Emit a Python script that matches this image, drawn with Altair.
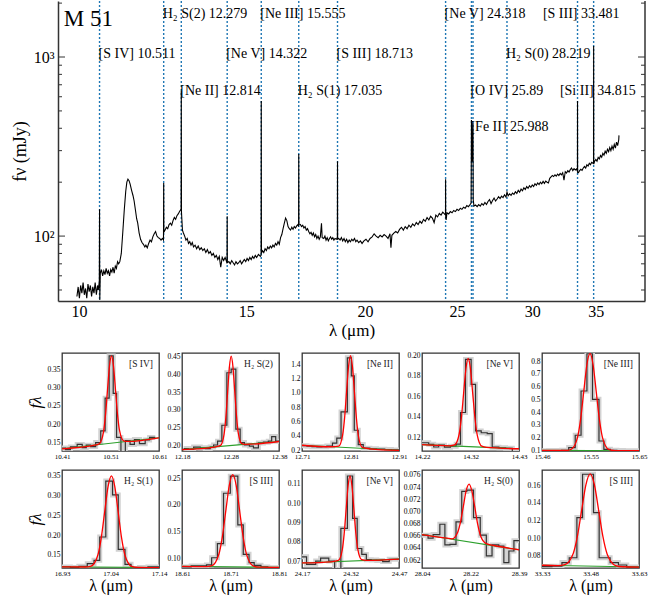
import altair as alt
import pandas as pd

FONT = "Liberation Serif"

# ---------------- top spectrum (wavelength um, flux mJy) ----------------
spectrum = [
    (9.95, 46), (9.98, 52), (10.01, 45), (10.04, 53), (10.07, 48), (10.10, 55), (10.13, 47), (10.16, 51),
    (10.19, 45), (10.22, 54), (10.25, 49), (10.28, 53), (10.31, 46), (10.34, 52), (10.37, 48), (10.40, 55),
    (10.43, 47), (10.46, 53), (10.48, 50), (10.505, 56), (10.511, 141), (10.517, 44), (10.53, 62), (10.56, 65),
    (10.59, 60), (10.62, 64), (10.65, 61), (10.68, 66), (10.71, 62), (10.74, 64), (10.77, 60), (10.80, 65),
    (10.83, 63), (10.86, 67), (10.89, 62), (10.92, 68), (10.95, 66), (10.98, 72), (11.01, 70), (11.04, 72),
    (11.08, 80), (11.12, 105), (11.16, 140), (11.20, 178), (11.23, 200), (11.26, 208), (11.29, 204), (11.32, 195),
    (11.36, 180), (11.40, 168), (11.43, 157), (11.47, 138), (11.50, 125), (11.53, 118), (11.57, 104), (11.61, 96),
    (11.65, 92), (11.69, 90), (11.73, 87), (11.76, 89), (11.80, 86), (11.84, 91), (11.88, 95), (11.92, 93),
    (11.96, 99), (12.00, 103), (12.04, 106), (12.08, 100), (12.12, 98), (12.16, 97), (12.20, 95), (12.24, 97),
    (12.273, 95), (12.279, 198), (12.285, 105), (12.32, 108), (12.36, 112), (12.40, 110), (12.44, 116), (12.48, 118),
    (12.52, 115), (12.56, 122), (12.60, 127), (12.64, 124), (12.68, 130), (12.72, 133), (12.76, 137), (12.79, 140),
    (12.808, 142), (12.814, 647), (12.82, 136), (12.85, 108), (12.88, 104), (12.92, 100), (12.96, 95), (13.00, 97),
    (13.04, 91), (13.08, 93), (13.12, 89), (13.16, 92), (13.20, 87), (13.25, 89), (13.30, 85), (13.35, 88),
    (13.40, 84), (13.45, 86), (13.50, 83), (13.55, 85), (13.60, 81), (13.65, 84), (13.70, 80), (13.75, 82),
    (13.80, 78), (13.85, 80), (13.90, 76), (13.95, 78), (14.00, 74), (14.05, 77), (14.10, 67), (14.15, 76),
    (14.20, 73), (14.25, 76), (14.30, 72), (14.316, 74), (14.322, 129), (14.328, 71), (14.38, 72), (14.43, 70),
    (14.48, 73), (14.53, 71), (14.58, 69), (14.63, 72), (14.68, 70), (14.73, 71), (14.78, 73), (14.83, 70),
    (14.88, 72), (14.93, 74), (14.98, 72), (15.03, 75), (15.08, 73), (15.13, 76), (15.18, 74), (15.23, 77),
    (15.28, 75), (15.33, 78), (15.38, 76), (15.45, 79), (15.52, 77), (15.548, 78), (15.555, 568), (15.562, 80),
    (15.60, 83), (15.65, 81), (15.70, 85), (15.75, 83), (15.80, 87), (15.85, 85), (15.90, 88), (15.95, 86),
    (16.00, 89), (16.05, 87), (16.10, 91), (16.15, 89), (16.20, 93), (16.25, 90), (16.30, 98), (16.35, 102),
    (16.40, 110), (16.45, 118), (16.50, 126), (16.55, 122), (16.60, 113), (16.65, 110), (16.70, 108), (16.75, 112),
    (16.80, 109), (16.85, 113), (16.90, 111), (16.95, 114), (17.00, 116), (17.028, 113), (17.035, 287), (17.042, 117),
    (17.10, 116), (17.15, 113), (17.20, 115), (17.25, 111), (17.30, 113), (17.35, 108), (17.40, 110), (17.45, 106),
    (17.50, 103), (17.55, 105), (17.60, 101), (17.65, 104), (17.70, 99), (17.75, 102), (17.80, 97), (17.85, 100),
    (17.90, 96), (17.95, 99), (18.00, 118), (18.03, 98), (18.10, 97), (18.15, 100), (18.20, 95), (18.25, 98),
    (18.30, 94), (18.35, 97), (18.40, 99), (18.45, 96), (18.50, 98), (18.55, 95), (18.60, 97), (18.66, 96),
    (18.706, 98), (18.713, 262), (18.72, 96), (18.77, 97), (18.83, 95), (18.89, 98), (18.95, 94), (19.01, 97),
    (19.07, 93), (19.13, 96), (19.19, 92), (19.25, 95), (19.31, 93), (19.37, 96), (19.43, 94), (19.50, 97),
    (19.56, 93), (19.62, 95), (19.70, 92), (19.78, 94), (19.86, 91), (19.95, 94), (20.05, 96), (20.15, 93),
    (20.25, 97), (20.35, 99), (20.45, 103), (20.55, 100), (20.65, 98), (20.75, 101), (20.85, 99), (20.95, 102),
    (21.05, 100), (21.15, 97), (21.25, 103), (21.30, 86), (21.35, 101), (21.45, 104), (21.55, 106), (21.65, 104),
    (21.75, 109), (21.85, 112), (21.95, 108), (22.05, 113), (22.15, 110), (22.25, 115), (22.35, 112), (22.45, 117),
    (22.55, 114), (22.65, 119), (22.75, 116), (22.85, 121), (22.95, 118), (23.05, 124), (23.15, 121), (23.25, 127),
    (23.35, 123), (23.45, 129), (23.55, 126), (23.65, 119), (23.75, 131), (23.85, 128), (23.95, 134), (24.05, 131),
    (24.15, 136), (24.25, 133), (24.312, 131), (24.318, 208), (24.325, 127), (24.35, 123), (24.40, 135), (24.50, 133),
    (24.60, 137), (24.70, 135), (24.80, 139), (24.90, 137), (25.00, 141), (25.10, 139), (25.20, 143), (25.30, 141),
    (25.40, 145), (25.50, 143), (25.60, 148), (25.70, 146), (25.80, 150), (25.87, 153), (25.89, 445), (25.94, 260),
    (25.988, 430), (26.00, 160), (26.05, 147), (26.15, 149), (26.25, 146), (26.35, 150), (26.45, 147), (26.55, 152),
    (26.65, 149), (26.75, 154), (26.85, 150), (26.95, 156), (27.05, 160), (27.15, 152), (27.25, 158), (27.35, 163),
    (27.45, 157), (27.55, 161), (27.65, 166), (27.75, 162), (27.85, 167), (27.95, 164), (28.05, 170), (28.15, 165),
    (28.22, 176), (28.30, 168), (28.40, 172), (28.50, 169), (28.60, 174), (28.70, 171), (28.80, 177), (28.90, 173),
    (29.00, 180), (29.10, 176), (29.20, 183), (29.30, 179), (29.40, 186), (29.50, 182), (29.60, 189), (29.70, 185),
    (29.80, 191), (29.90, 187), (30.00, 193), (30.10, 189), (30.20, 196), (30.30, 192), (30.40, 198), (30.50, 194),
    (30.60, 200), (30.70, 196), (30.80, 202), (30.90, 197), (31.00, 203), (31.10, 200), (31.20, 198), (31.30, 210),
    (31.40, 214), (31.50, 218), (31.60, 215), (31.70, 220), (31.80, 216), (31.90, 222), (32.00, 218), (32.10, 224),
    (32.20, 220), (32.30, 226), (32.40, 205), (32.50, 229), (32.60, 225), (32.70, 232), (32.80, 228), (32.90, 235),
    (33.00, 240), (33.10, 232), (33.20, 238), (33.30, 234), (33.40, 237), (33.474, 230), (33.481, 568), (33.49, 226),
    (33.55, 226), (33.65, 232), (33.75, 236), (33.85, 233), (33.95, 240), (34.05, 245), (34.15, 240), (34.25, 250),
    (34.35, 246), (34.45, 255), (34.55, 250), (34.65, 258), (34.75, 255), (34.805, 258), (34.815, 1151), (34.825, 252),
    (34.90, 262), (35.00, 268), (35.10, 262), (35.20, 275), (35.30, 270), (35.40, 282), (35.50, 276), (35.60, 290),
    (35.70, 283), (35.80, 298), (35.90, 290), (36.00, 305), (36.10, 296), (36.20, 312), (36.30, 300), (36.40, 318),
    (36.50, 305), (36.60, 325), (36.70, 310), (36.80, 335), (36.90, 320), (37.00, 345), (37.02, 365),
]

line_waves = [10.511, 12.279, 12.814, 14.322, 15.555, 17.035, 18.713, 24.318, 25.89, 25.988, 28.219, 33.481, 34.815]
label_text = ["[S IV] 10.511", "H\u2082 S(2) 12.279", "[Ne II] 12.814", "[Ne V] 14.322", "[Ne III] 15.555",
              "H\u2082 S(1) 17.035", "[S III] 18.713", "[Ne V] 24.318", "[O IV] 25.89", "[Fe II] 25.988",
              "H\u2082 S(0) 28.219", "[S III] 33.481", "[Si II] 34.815"]
label_lam = [10.511, 12.279, 12.814, 14.322, 15.555, 17.035, 18.713, 24.318, 25.89, 25.89, 28.219, 30.86, 32.16]
label_flux = [1040, 1738, 646, 1040, 1738, 646, 1040, 1738, 646, 406, 1040, 1738, 646]

y_major = [100, 1000]
y_minor = [50, 60, 70, 80, 90, 200, 300, 400, 500, 600, 700, 800, 900, 2000]
x_ticks = [10, 15, 20, 25, 30, 35]

# ---------------- zoom panels ----------------
panels = [
    dict(name="[S IV]", xlo=10.41, xhi=10.61, xlab=["10.41", "10.51", "10.61"], ylo=0.127, yhi=0.394,
         yticks=[0.15, 0.20, 0.25, 0.30, 0.35], yfmt=".2f",
         edges=[10.41, 10.417, 10.4274, 10.4413, 10.4517, 10.46, 10.469, 10.4794, 10.4899, 10.4989, 10.5072,
                10.5156, 10.5225, 10.5315, 10.5406, 10.5503, 10.5593, 10.5697, 10.5815, 10.5906, 10.6024],
         vals=[0.135, 0.131, 0.138, 0.145, 0.136, 0.143, 0.139, 0.150, 0.182, 0.271, 0.386, 0.284, 0.164, 0.125,
               0.155, 0.145, 0.158, 0.147, 0.157, 0.164],
         fit=[(10.41, 0.133), (10.48, 0.1435), (10.487, 0.147), (10.4954, 0.178), (10.4996, 0.224), (10.5037, 0.291),
              (10.5079, 0.358), (10.512, 0.386), (10.5161, 0.359), (10.5203, 0.294), (10.5244, 0.2275),
              (10.5286, 0.183), (10.537, 0.1546), (10.545, 0.153), (10.61, 0.163)],
         cont=[(10.41, 0.133), (10.61, 0.163)]),
    dict(name="H\u2082 S(2)", xlo=12.18, xhi=12.38, xlab=["12.18", "12.28", "12.38"], ylo=0.183, yhi=0.461,
         yticks=[0.20, 0.25, 0.30, 0.35, 0.40, 0.45], yfmt=".2f",
         edges=[12.1834, 12.1937, 12.204, 12.2177, 12.228, 12.2382, 12.2451, 12.2533, 12.2622, 12.2725, 12.2814,
                12.291, 12.2999, 12.3088, 12.319, 12.3273, 12.3375, 12.3478, 12.358, 12.3649, 12.3732, 12.38],
         vals=[0.19, 0.188, 0.194, 0.192, 0.19, 0.194, 0.2, 0.211, 0.256, 0.405, 0.415, 0.245, 0.207, 0.2, 0.197,
               0.192, 0.206, 0.208, 0.211, 0.224, 0.211],
         fit=[(12.18, 0.187), (12.25, 0.195), (12.2595, 0.199), (12.2668, 0.231), (12.2705, 0.2795), (12.2741, 0.351),
              (12.2778, 0.422), (12.2814, 0.452), (12.285, 0.4226), (12.2887, 0.353), (12.2924, 0.282),
              (12.296, 0.2344), (12.3033, 0.2038), (12.31, 0.2017), (12.38, 0.21)],
         cont=[(12.18, 0.187), (12.38, 0.21)]),
    dict(name="[Ne II]", xlo=12.71, xhi=12.91, xlab=["12.71", "12.81", "12.91"], ylo=0.19, yhi=1.558,
         yticks=[0.2, 0.4, 0.6, 0.8, 1.0, 1.2, 1.4], yfmt=".1f",
         edges=[12.71, 12.7202, 12.7305, 12.7407, 12.751, 12.7612, 12.7728, 12.7817, 12.7905, 12.8035, 12.8117,
                12.8178, 12.826, 12.8363, 12.8499, 12.8636, 12.8807, 12.8943, 12.91],
         vals=[0.265, 0.258, 0.25, 0.248, 0.25, 0.26, 0.30, 0.37, 0.735, 1.49, 1.24, 0.48, 0.28, 0.23, 0.22, 0.215,
               0.21, 0.205],
         fit=[(12.71, 0.27), (12.77, 0.249), (12.7857, 0.258), (12.7938, 0.415), (12.7979, 0.656), (12.8019, 1.017),
              (12.806, 1.370), (12.81, 1.52), (12.814, 1.368), (12.8181, 1.012), (12.8222, 0.648), (12.8262, 0.403),
              (12.8343, 0.241), (12.85, 0.221), (12.91, 0.20)],
         cont=[(12.71, 0.27), (12.91, 0.20)]),
    dict(name="[Ne V]", xlo=14.22, xhi=14.43, xlab=["14.22", "14.32", "14.43"], ylo=0.1063, yhi=0.2023,
         yticks=[0.12, 0.14, 0.16, 0.18, 0.20], yfmt=".2f",
         edges=[14.22, 14.2345, 14.2453, 14.2562, 14.2685, 14.2816, 14.2939, 14.3033, 14.3142, 14.3264, 14.3359,
                14.3482, 14.3612, 14.372, 14.3865, 14.401, 14.4155, 14.43],
         vals=[0.1144, 0.1128, 0.1102, 0.112, 0.110, 0.111, 0.113, 0.144, 0.196, 0.1716, 0.126, 0.1242, 0.1233,
               0.110, 0.1095, 0.109, 0.1056],
         fit=[(14.22, 0.1125), (14.28, 0.1114), (14.2906, 0.1122), (14.3004, 0.1227), (14.3053, 0.139),
              (14.3102, 0.1632), (14.3151, 0.1869), (14.32, 0.197), (14.3249, 0.1867), (14.3298, 0.1628),
              (14.3347, 0.1384), (14.3396, 0.1219), (14.3494, 0.111), (14.36, 0.1098), (14.43, 0.1085)],
         cont=[(14.22, 0.1125), (14.43, 0.1085)]),
    dict(name="[Ne III]", xlo=15.46, xhi=15.65, xlab=["15.46", "15.55", "15.65"], ylo=0.0945, yhi=0.863,
         yticks=[0.1, 0.2, 0.3, 0.4, 0.5, 0.6, 0.7, 0.8], yfmt=".1f",
         edges=[15.46, 15.4728, 15.4855, 15.4983, 15.5123, 15.5251, 15.5365, 15.548, 15.5589, 15.5716, 15.5812,
                15.594, 15.6067, 15.6195, 15.6323, 15.65],
         vals=[0.097, 0.098, 0.098, 0.100, 0.121, 0.218, 0.565, 0.857, 0.50, 0.173, 0.108, 0.100, 0.098, 0.097,
               0.097],
         fit=[(15.46, 0.1), (15.51, 0.0995), (15.5174, 0.108), (15.5296, 0.202), (15.5357, 0.346), (15.5418, 0.561),
              (15.5479, 0.771), (15.554, 0.86), (15.5601, 0.7705), (15.5662, 0.5604), (15.5723, 0.3458),
              (15.5784, 0.2016), (15.5906, 0.1068), (15.60, 0.0983), (15.65, 0.097)],
         cont=[(15.46, 0.1), (15.65, 0.097)]),
    dict(name="H\u2082 S(1)", xlo=16.93, xhi=17.14, xlab=["16.93", "17.04", "17.14"], ylo=0.117, yhi=0.365,
         yticks=[0.15, 0.20, 0.25, 0.30, 0.35], yfmt=".2f",
         edges=[16.93, 16.9482, 16.9665, 16.9847, 16.9993, 17.0117, 17.0248, 17.0394, 17.0518, 17.0664, 17.0795,
                17.0977, 17.116, 17.14],
         vals=[0.1196, 0.118, 0.1213, 0.128, 0.1363, 0.1954, 0.337, 0.302, 0.1643, 0.1262, 0.116, 0.118, 0.1196],
         fit=[(16.93, 0.12), (16.98, 0.1195), (16.9932, 0.1219), (17.0078, 0.1505), (17.0151, 0.1941),
              (17.0224, 0.2591), (17.0297, 0.3229), (17.037, 0.35), (17.0443, 0.3228), (17.0516, 0.2589),
              (17.0589, 0.1938), (17.0662, 0.15), (17.0808, 0.1211), (17.095, 0.1184), (17.14, 0.118)],
         cont=[(16.93, 0.12), (17.14, 0.118)]),
    dict(name="[S III]", xlo=18.61, xhi=18.81, xlab=["18.61", "18.71", "18.81"], ylo=0.0818, yhi=0.2656,
         yticks=[0.10, 0.15, 0.20, 0.25], yfmt=".2f",
         edges=[18.61, 18.6289, 18.6465, 18.6605, 18.6711, 18.683, 18.6956, 18.7096, 18.7251, 18.7363, 18.7482,
                18.7588, 18.7728, 18.7868, 18.81],
         vals=[0.0838, 0.0856, 0.0856, 0.0875, 0.101, 0.1275, 0.222, 0.254, 0.1625, 0.1075, 0.0919, 0.0869, 0.0838,
               0.0825],
         fit=[(18.61, 0.085), (18.66, 0.0845), (18.6717, 0.0862), (18.686, 0.1076), (18.6932, 0.1403),
              (18.7003, 0.1889), (18.7075, 0.2367), (18.7146, 0.2569), (18.7218, 0.2365), (18.7289, 0.1887),
              (18.7361, 0.1399), (18.7432, 0.107), (18.7575, 0.0854), (18.77, 0.0834), (18.81, 0.083)],
         cont=[(18.61, 0.085), (18.81, 0.083)]),
    dict(name="[Ne V]", xlo=24.17, xhi=24.47, xlab=["24.17", "24.32", "24.47"], ylo=0.0664, yhi=0.1171,
         yticks=[0.07, 0.08, 0.09, 0.10, 0.11], yfmt=".2f",
         edges=[24.17, 24.1841, 24.2124, 24.2276, 24.2528, 24.271, 24.2902, 24.3104, 24.3266, 24.3407, 24.3549,
                24.369, 24.3841, 24.4013, 24.4195, 24.4397, 24.47],
         vals=[0.0722, 0.0683, 0.070, 0.0715, 0.070, 0.0655, 0.0869, 0.114, 0.0921, 0.0765, 0.0734, 0.0707, 0.0705,
               0.0703, 0.0697, 0.0709],
         fit=[(24.17, 0.069), (24.26, 0.0696), (24.2825, 0.0703), (24.2945, 0.0758), (24.3005, 0.0842),
              (24.3065, 0.0966), (24.3125, 0.1088), (24.3185, 0.114), (24.3245, 0.1088), (24.3305, 0.0968),
              (24.3365, 0.0844), (24.3425, 0.0762), (24.3545, 0.0707), (24.37, 0.0703), (24.47, 0.071)],
         cont=[(24.17, 0.069), (24.47, 0.071)]),
    dict(name="H\u2082 S(0)", xlo=28.04, xhi=28.39, xlab=["28.04", "28.22", "28.39"], ylo=0.0607, yhi=0.07682,
         yticks=[0.062, 0.064, 0.066, 0.068, 0.070, 0.072, 0.074, 0.076], yfmt=".3f",
         edges=[28.04, 28.0619, 28.0801, 28.1044, 28.1226, 28.1409, 28.1627, 28.1834, 28.2016, 28.2259, 28.2502,
                28.2721, 28.2927, 28.317, 28.3353, 28.3535, 28.3717, 28.39],
         vals=[0.0661, 0.0656, 0.0662, 0.0679, 0.0645, 0.0646, 0.0683, 0.0733, 0.0735, 0.069, 0.0661, 0.0627,
               0.0645, 0.0643, 0.0616, 0.0635, 0.0652],
         fit=[(28.04, 0.0662), (28.13, 0.0656), (28.1482, 0.0655), (28.1688, 0.0666), (28.1791, 0.0683),
              (28.1894, 0.0709), (28.1997, 0.0735), (28.21, 0.0745), (28.2203, 0.0733), (28.2306, 0.0707),
              (28.2409, 0.0679), (28.2512, 0.066), (28.2718, 0.0647), (28.30, 0.0644), (28.39, 0.0637)],
         cont=[(28.04, 0.0662), (28.39, 0.0637)]),
    dict(name="[S III]", xlo=33.33, xhi=33.63, xlab=["33.33", "33.48", "33.63"], ylo=0.0664, yhi=0.1773,
         yticks=[0.08, 0.10, 0.12, 0.14, 0.16], yfmt=".2f",
         edges=[33.33, 33.3608, 33.3917, 33.4143, 33.4379, 33.4554, 33.4718, 33.4893, 33.5068, 33.5407, 33.5664,
                33.5921, 33.63],
         vals=[0.068, 0.0685, 0.0725, 0.078, 0.1235, 0.1725, 0.1725, 0.129, 0.078, 0.0725, 0.0698, 0.0675],
         fit=[(33.33, 0.0695), (33.38, 0.0692), (33.4004, 0.0702), (33.4266, 0.0829), (33.4397, 0.1027),
              (33.4528, 0.1321), (33.4659, 0.1608), (33.479, 0.173), (33.4921, 0.1606), (33.5052, 0.1317),
              (33.5183, 0.1021), (33.5314, 0.0823), (33.5576, 0.0692), (33.58, 0.0678), (33.63, 0.0675)],
         cont=[(33.33, 0.0695), (33.63, 0.0675)]),
]

# ================= top chart =================
TW, TH = 587, 300
FRAME = "#333333"
xs_top = alt.Scale(type="log", domain=[9.504, 39.43], nice=False)
ys_top = alt.Scale(type="log", domain=[43.4, 2055], nice=False)
xax_top = alt.Axis(values=x_ticks, format="d", ticks=False, grid=False, domainColor=FRAME, domainWidth=1.5,
                   labelFont=FONT, labelFontSize=16, labelPadding=2, labelColor="black",
                   title="\u03bb (\u03bcm)", titleFont=FONT, titleFontSize=17, titleFontWeight="normal",
                   titlePadding=3, titleColor="black")
yax_top = alt.Axis(values=y_major, labelExpr="datum.value == 100 ? '10\u00b2' : '10\u00b3'", ticks=False,
                   grid=False, domainColor=FRAME, domainWidth=1.5, labelFont=FONT, labelFontSize=16,
                   labelPadding=4, labelColor="black", title="f\u03bd (mJy)", titleFont=FONT, titleFontSize=18,
                   titleFontWeight="normal", titlePadding=4, titleColor="black")

spec_df = pd.DataFrame(spectrum, columns=["lam", "f"])
lines_df = pd.DataFrame({"lam": line_waves})
labels_df = pd.DataFrame({"lam": label_lam, "f": label_flux, "txt": label_text})
name_df = pd.DataFrame({"lam": [9.64], "f": [1630], "txt": ["M 51"]})
major_df = pd.DataFrame({"f": y_major})
minor_df = pd.DataFrame({"f": y_minor})
one_df = pd.DataFrame({"a": [0]})

X = alt.X("lam:Q", scale=xs_top, axis=xax_top)
Y = alt.Y("f:Q", scale=ys_top, axis=yax_top)

vlines = alt.Chart(lines_df).mark_rule(color="#1f77b4", strokeDash=[2, 2], strokeWidth=1.4).encode(x=X)
spec_line = alt.Chart(spec_df).mark_line(color="black", strokeWidth=1.1, clip=True).encode(
    x=X, y=Y, order="lam:Q")
labels = alt.Chart(labels_df).mark_text(align="left", baseline="middle", font=FONT, fontSize=14,
                                        color="black", dx=-1).encode(x=X, y=Y, text="txt:N")
m51 = alt.Chart(name_df).mark_text(align="left", baseline="middle", font=FONT, fontSize=23,
                                   color="black").encode(x=X, y=Y, text="txt:N")
tick_l_major = alt.Chart(major_df).mark_rule(color=FRAME, strokeWidth=1).encode(
    y=Y, x=alt.value(0), x2=alt.value(7))
tick_l_minor = alt.Chart(minor_df).mark_rule(color=FRAME, strokeWidth=1, clip=True).encode(
    y=Y, x=alt.value(0), x2=alt.value(4))
tick_r_major = alt.Chart(major_df).mark_rule(color=FRAME, strokeWidth=1).encode(
    y=Y, x=alt.value(TW - 7), x2=alt.value(TW))
tick_r_minor = alt.Chart(minor_df).mark_rule(color=FRAME, strokeWidth=1, clip=True).encode(
    y=Y, x=alt.value(TW - 4), x2=alt.value(TW))
right_border = alt.Chart(one_df).mark_rule(color=FRAME, strokeWidth=1.5).encode(
    x=alt.value(TW), y=alt.value(0), y2=alt.value(TH))

top = alt.layer(vlines, spec_line, labels, m51, tick_l_major, tick_l_minor, tick_r_major, tick_r_minor,
                right_border).properties(width=TW, height=TH)


# ================= small panels =================
PW, PH = 97, 98


def make_panel(p, bottom_row, first_col):
    lo, hi = p["xlo"], p["xhi"]
    mid = (lo + hi) / 2
    t1 = lo + 0.25 * (hi - lo)
    t2 = lo + 0.75 * (hi - lo)
    labs = p["xlab"]
    lexpr = f"datum.value < {t1} ? '{labs[0]}' : (datum.value < {t2} ? '{labs[1]}' : '{labs[2]}')"
    xs = alt.Scale(domain=[lo, hi], nice=False, zero=False)
    ys = alt.Scale(domain=[p["ylo"], p["yhi"]], nice=False, zero=False)
    xax = alt.Axis(values=[lo, mid, hi], labelExpr=lexpr, labelFlush=False, labelOverlap=False, ticks=False,
                   domain=False, grid=False, labelFont=FONT, labelFontSize=7, labelPadding=1,
                   labelColor="black",
                   title=("\u03bb (\u03bcm)" if bottom_row else None), titleFont=FONT, titleFontSize=16,
                   titleFontWeight="normal", titlePadding=1, titleColor="black")
    yax = alt.Axis(values=p["yticks"], format=p["yfmt"], labelOverlap=False, ticks=False, domain=False,
                   grid=False, labelFont=FONT, labelFontSize=7.5, labelPadding=2, labelColor="black",
                   title=("f\u03bb" if first_col else None), titleFont=FONT, titleFontSize=17,
                   titleFontWeight="normal", titleFontStyle="italic", titlePadding=2, titleColor="black")
    PX = alt.X("lam:Q", scale=xs, axis=xax)
    PY = alt.Y("f:Q", scale=ys, axis=yax)

    step_df = pd.DataFrame({"lam": p["edges"], "f": p["vals"] + [p["vals"][-1]]})
    fit_df = pd.DataFrame(p["fit"], columns=["lam", "f"])
    cont_df = pd.DataFrame(p["cont"], columns=["lam", "f"])
    name_df = pd.DataFrame({"name": [p["name"]]})

    band = alt.Chart(step_df).mark_line(interpolate="step-after", color="#d2d2d2", strokeWidth=5,
                                        clip=True).encode(x=PX, y=PY)
    step = alt.Chart(step_df).mark_line(interpolate="step-after", color="#333333", strokeWidth=1.2,
                                        clip=True).encode(x=PX, y=PY)
    cont = alt.Chart(cont_df).mark_line(color="#2ca02c", strokeWidth=1.1, clip=True).encode(x=PX, y=PY)
    fit = alt.Chart(fit_df).mark_line(interpolate="monotone", color="red", strokeWidth=1.3,
                                      clip=True).encode(x=PX, y=PY)
    txt = alt.Chart(name_df).mark_text(align="right", baseline="middle", font=FONT, fontSize=9.5,
                                       color="#222222").encode(x=alt.value(PW - 6), y=alt.value(11),
                                                               text="name:N")
    return alt.layer(band, step, cont, fit, txt).properties(
        width=PW, height=PH, view=alt.ViewBackground(stroke=FRAME, strokeWidth=1.3))


spacer = alt.Chart(one_df).mark_point(opacity=0).encode(x=alt.value(0), y=alt.value(0)).properties(
    width=1, height=PH)

small = [make_panel(p, i >= 5, i % 5 == 0) for i, p in enumerate(panels)]
grid = alt.concat(*small, columns=5, spacing={"row": 19, "column": 23}, bounds="flush")
bottom = alt.hconcat(spacer, grid, spacing=3, bounds="flush")

chart = alt.vconcat(top, bottom, spacing=52, bounds="flush").properties(
    padding={"left": 11, "top": 0, "right": 5, "bottom": 5},
).configure(font=FONT).configure_view(strokeWidth=0)

chart.save("out.html", embed_options={"renderer": "svg", "actions": False})
